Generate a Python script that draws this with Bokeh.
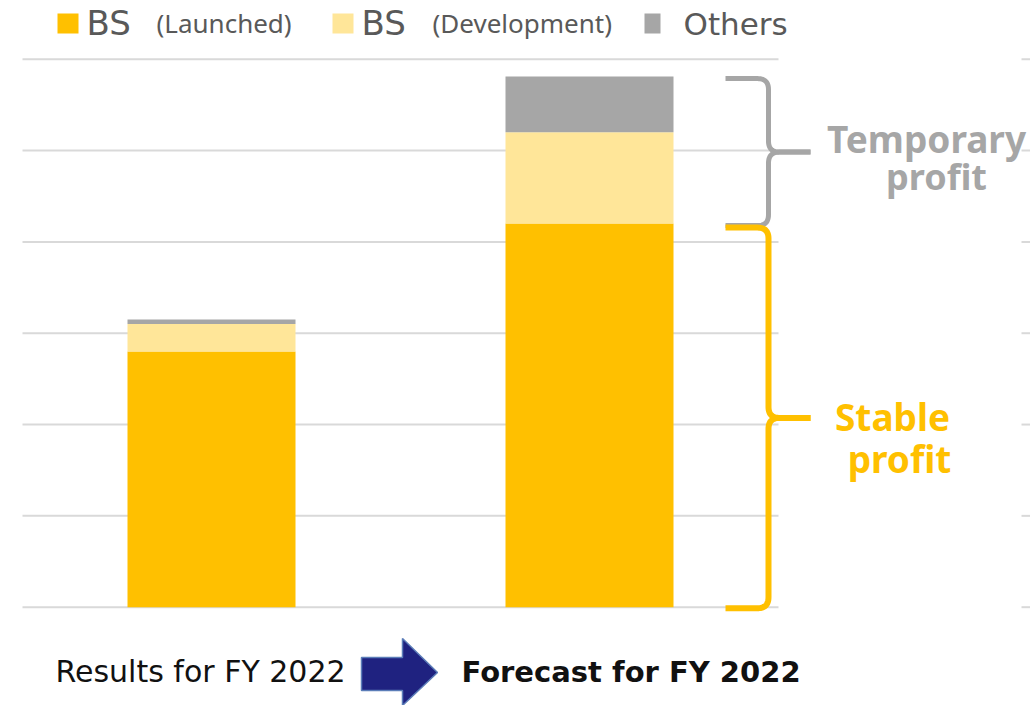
from bokeh.plotting import figure
from bokeh.models import Range1d, ColumnDataSource
from bokeh.embed import file_html
from bokeh.resources import INLINE
from bokeh.core.properties import value

# ---------------- data ----------------
categories = ["Results for FY 2022", "Forecast for FY 2022"]
bs_launched = [2.80, 4.20]
bs_development = [0.30, 1.00]
others = [0.05, 0.61]
grid_ticks = [0, 1, 2, 3, 4, 5, 6]
legend_names = ["BS", "(Launched)", "BS", "(Development)", "Others"]
bracket_labels = [["Temporary", "profit"], ["Stable", "profit"]]

C_LAUNCH = "#FFC000"
C_DEV = "#FFE699"
C_OTHER = "#A6A6A6"
C_GRID = "#D9D9D9"
C_TEXT = "#595959"

# ---------------- layout helpers (picture pixels -> data) ----------------
W, H = 1030, 705
CAT0_PX, CAT_STEP = 211.0, 378.0
ZERO_PY, UNIT_PY = 606.7, 91.33


def dx(px):
    return (px - CAT0_PX) / CAT_STEP


def dy(py):
    return (ZERO_PY - py) / UNIT_PY


def py_of(v):
    return ZERO_PY - UNIT_PY * v


def base(py, fs, k=0.39):
    # baseline correction for the rendered text
    return dy(py - k * fs)


p = figure(width=W, height=H, output_backend="svg", toolbar_location=None,
           x_range=Range1d(dx(0), dx(W)),
           y_range=Range1d(dy(H), dy(0)),
           min_border=0)
p.axis.visible = False
p.grid.visible = False
p.outline_line_color = None
p.background_fill_color = "white"
p.border_fill_color = "white"

# gridlines
n = len(grid_ticks)
p.segment(x0=[-0.5] * n, x1=[1.5] * n, y0=grid_ticks, y1=grid_ticks,
          line_color=C_GRID, line_width=2)
p.segment(x0=[dx(1021)] * n, x1=[dx(1030)] * n, y0=grid_ticks, y1=grid_ticks,
          line_color=C_GRID, line_width=2)

# stacked bars
src = ColumnDataSource(dict(x=list(range(len(categories))), launched=bs_launched,
                            development=bs_development, others=others))
p.vbar_stack(["launched", "development", "others"], x="x", width=168 / CAT_STEP,
             source=src, color=[C_LAUNCH, C_DEV, C_OTHER], line_color=None)


# braces
def quad(p0, c, p1, k=14):
    pts = []
    for i in range(k + 1):
        t = i / k
        x = (1 - t) ** 2 * p0[0] + 2 * (1 - t) * t * c[0] + t ** 2 * p1[0]
        y = (1 - t) ** 2 * p0[1] + 2 * (1 - t) * t * c[1] + t ** 2 * p1[1]
        pts.append((x, y))
    return pts


def brace(y0, y1, xl=725, xs=768, xt=810, r=11):
    ym = (y0 + y1) / 2
    up = [(xl, y0)] + quad((xs - r, y0), (xs, y0), (xs, y0 + r)) + \
        quad((xs, ym - r), (xs, ym), (xs + r, ym)) + [(xt, ym)]
    lo = [(xt, ym)] + quad((xs + r, ym), (xs, ym), (xs, ym + r)) + \
        quad((xs, y1 - r), (xs, y1), (xs - r, y1)) + [(xl, y1)]
    return ([[dx(a) for a, b in up], [dx(a) for a, b in lo]],
            [[dy(b) for a, b in up], [dy(b) for a, b in lo]])


top2 = bs_launched[1] + bs_development[1] + others[1]
gx, gy = brace(py_of(top2) + 2, py_of(bs_launched[1]) + 2)
p.multi_line(gx, gy, line_color=C_OTHER, line_width=5, line_join="round")
yx, yy = brace(py_of(bs_launched[1]) + 4, py_of(0) + 1)
p.multi_line(yx, yy, line_color=C_LAUNCH, line_width=6, line_join="round")

# bracket labels
bf = value("Noto Sans")
p.text(x=[dx(926)], y=[base(152, 37)], text=[bracket_labels[0][0]],
       text_color=C_OTHER, text_font=bf, text_font_style="bold",
       text_font_size="37px", text_align="center", text_baseline="alphabetic")
p.text(x=[dx(936)], y=[base(190, 36)], text=[bracket_labels[0][1]],
       text_color=C_OTHER, text_font=bf, text_font_style="bold",
       text_font_size="36px", text_align="center", text_baseline="alphabetic")
p.text(x=[dx(892), dx(899)], y=[base(430, 37), base(472, 37)],
       text=bracket_labels[1],
       text_color=C_LAUNCH, text_font=bf, text_font_style="bold",
       text_font_size="37px", text_align="center", text_baseline="alphabetic")

# legend
sq_l = [57, 332, 644]
sq_r = [78, 353, 660]
p.quad(left=[dx(a) for a in sq_l], right=[dx(a) for a in sq_r],
       top=[dy(13)] * 3, bottom=[dy(33)] * 3,
       fill_color=[C_LAUNCH, C_DEV, C_OTHER], line_color=None)
lf = value("DejaVu Sans")
p.text(x=[dx(86), dx(361)], y=[base(35, 34, 0.37)] * 2,
       text=[legend_names[0], legend_names[2]],
       text_color=C_TEXT, text_font=lf, text_font_size="34px",
       text_align="left", text_baseline="alphabetic")
p.text(x=[dx(683)], y=[base(35, 31, 0.37)], text=[legend_names[4]],
       text_color=C_TEXT, text_font=lf, text_font_size="31px",
       text_align="left", text_baseline="alphabetic")
p.text(x=[dx(156), dx(432)], y=[base(33, 26)] * 2,
       text=[legend_names[1], legend_names[3]],
       text_color=C_TEXT, text_font=value("Noto Sans"), text_font_size="26px",
       text_align="left", text_baseline="alphabetic")

# bottom category labels
p.text(x=[dx(55)], y=[base(682, 30, 0.37)], text=[categories[0]],
       text_color="#111111",
       text_font=value("DejaVu Sans"), text_font_size="30px",
       text_align="left", text_baseline="alphabetic")
p.text(x=[dx(461)], y=[base(682, 29, 0.37)], text=[categories[1]],
       text_color="#111111",
       text_font=value("DejaVu Sans"), text_font_style="bold",
       text_font_size="29px", text_align="left", text_baseline="alphabetic")

# arrow
ax = [361, 402, 402, 437, 402, 402, 361]
ay = [657, 657, 638, 672, 705, 690, 690]
p.patch([dx(a) for a in ax], [dy(b) for b in ay], fill_color="#1F2280",
        line_color="#5B7DB8", line_width=1.5)

open("out.html", "w").write(file_html(p, INLINE))
